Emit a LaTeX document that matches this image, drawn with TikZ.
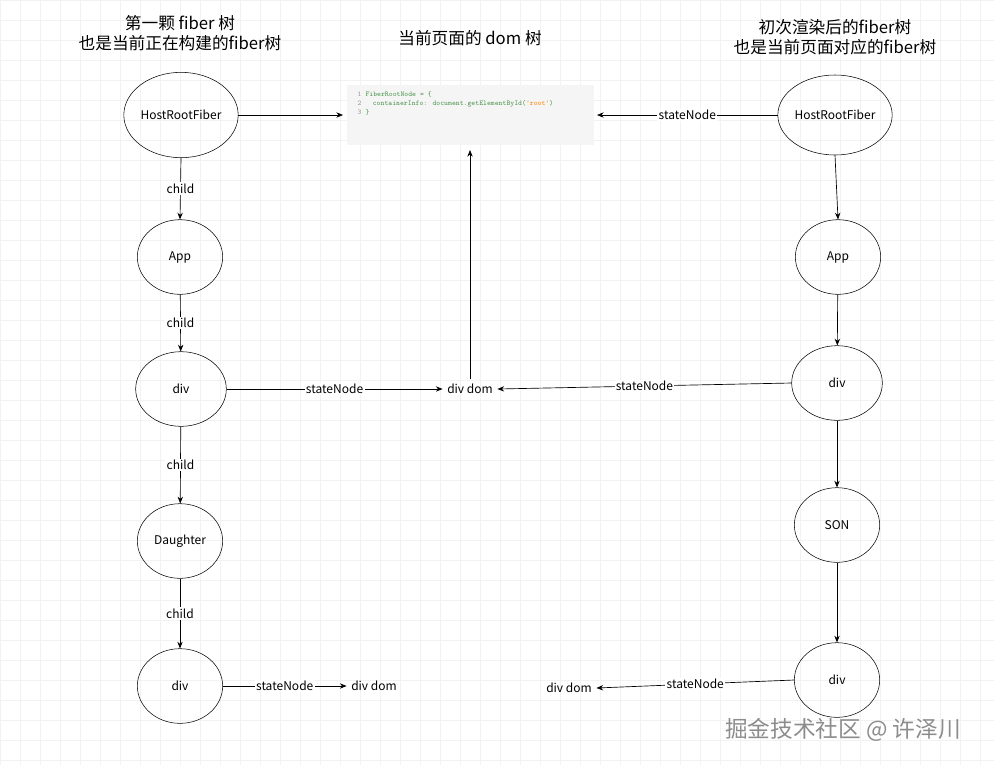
\documentclass[tikz,border=0pt]{standalone}
\usepackage{fontspec}
\setmainfont{Noto Sans CJK SC}
\usetikzlibrary{arrows.meta,shapes.geometric}
\begin{document}
\begin{tikzpicture}[x=0.75pt,y=-0.75pt,
  f/.style={draw,ellipse,font=\fontsize{9}{10}\selectfont,inner sep=0pt},
  lab/.style={fill=white,font=\fontsize{9}{10}\selectfont,inner sep=1pt},
  t/.style={font=\fontsize{12.5}{15}\selectfont,align=center},
  a/.style={-{Stealth[length=5pt,width=4pt]},line width=0.5pt},
  code/.style={font=\ttfamily\fontsize{5.5}{6.5}\selectfont}]
\useasboundingbox (0,0) rectangle (994,765);
\foreach \i in {0,20,...,980} \draw[black!5,line width=0.4pt] (\i,0) -- (\i,765);
\foreach \j in {0,20,...,760} \draw[black!5,line width=0.4pt] (0,\j) -- (994,\j);
\node[t] (t1) at (180,33) {第一颗 fiber 树\\也是当前正在构建的fiber树};
\node[t] (t2) at (470,38) {当前页面的 dom 树};
\node[t] (t3) at (835,37) {初次渲染后的fiber树\\也是当前页面对应的fiber树};
\fill[black!4] (347,85) rectangle (594,145);
\node[code,anchor=north west,align=left] (code) at (353,87) {\textcolor{black!40}{1} \textcolor{green!40!black!70}{FiberRootNode = \{}\\\textcolor{black!40}{2}\quad\ \textcolor{green!40!black!70}{containerInfo: document.getElementById(\textcolor{orange}{'root'})}\\\textcolor{black!40}{3} \textcolor{green!40!black!70}{\}}};
\coordinate (cl) at (343,115);
\coordinate (cr) at (597,115);
\coordinate (cb) at (470,150);
% left
\node[f,minimum width=71pt,minimum height=64pt] (l1) at (181,115) {HostRootFiber};
\node[f,minimum width=64pt,minimum height=56pt] (l2) at (180,257) {App};
\node[f,minimum width=68pt,minimum height=56pt] (l3) at (181,389) {div};
\node[f,minimum width=64pt,minimum height=56pt] (l4) at (180,541) {Daughter};
\node[f,minimum width=64pt,minimum height=56pt] (l5) at (180,686) {div};
% right
\node[f,minimum width=83pt,minimum height=60pt] (r1) at (835,115) {HostRootFiber};
\node[f,minimum width=64pt,minimum height=56pt] (r2) at (838,257) {App};
\node[f,minimum width=68pt,minimum height=56pt] (r3) at (837,383) {div};
\node[f,minimum width=64pt,minimum height=56pt] (r4) at (837,525) {SON};
\node[f,minimum width=64pt,minimum height=56pt] (r5) at (837,680) {div};
% dom nodes
\node[font=\fontsize{9}{10}\selectfont] (dd) at (470,389) {div dom};
\node[font=\fontsize{9}{10}\selectfont] (d1) at (374,686) {div dom};
\node[font=\fontsize{9}{10}\selectfont] (d2) at (569,688) {div dom};
% arrows
\draw[a] (l1.east) -- (cl);
\draw[a] (r1.west) -- node[lab]{stateNode} (cr);
\draw[a] (l1.south) -- node[lab]{child} (l2.north);
\draw[a] (l2) -- node[lab]{child} (l3);
\draw[a] (l3) -- node[lab]{child} (l4);
\draw[a] (l4) -- node[lab]{child} (l5);
\draw[a] (l3.east) -- node[lab]{stateNode} (dd.west);
\draw[a] (dd.north) -- (cb);
\draw[a] (r3.west) -- node[lab]{stateNode} (dd.east);
\draw[a] (r1.south) -- (r2.north);
\draw[a] (r2) -- (r3);
\draw[a] (r3) -- (r4);
\draw[a] (r4) -- (r5);
\draw[a] (l5.east) -- node[lab]{stateNode} (d1.west);
\draw[a] (r5.west) -- node[lab]{stateNode} (d2.east);
\node[font=\fontsize{17}{20}\selectfont,text=black!45] (wm) at (843,730) {掘金技术社区 @ 许泽川};
\end{tikzpicture}
\end{document}
